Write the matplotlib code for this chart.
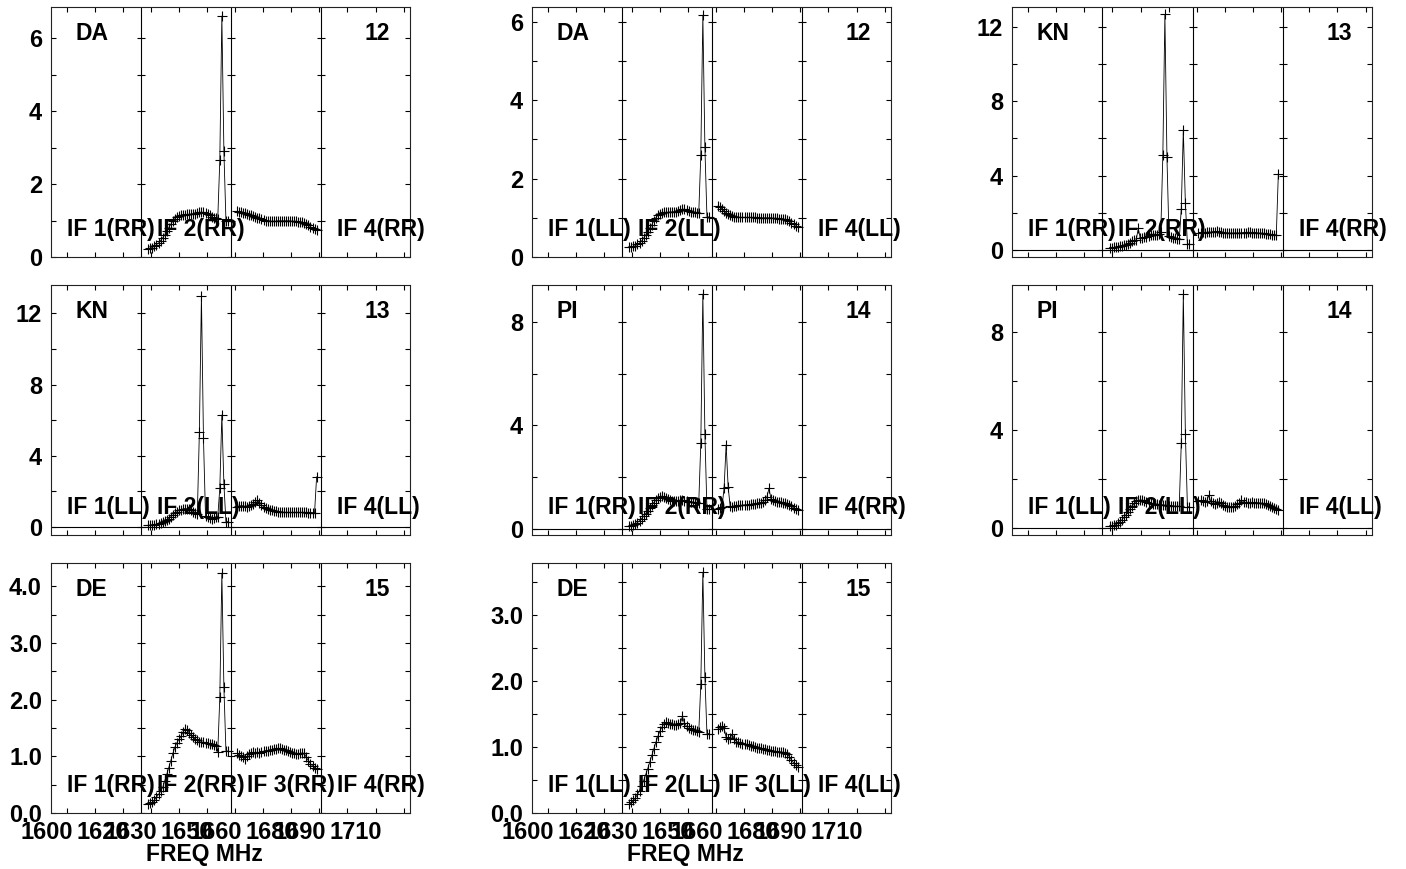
import numpy as np
import matplotlib
matplotlib.use('Agg')
import matplotlib.pyplot as plt
import matplotlib.transforms as mtransforms

plt.rcParams['font.family'] = ['Liberation Sans', 'DejaVu Sans']
plt.rcParams['font.weight'] = 'bold'

# ---------------- data ----------------
STATIONS = ['DA', 'DA', 'KN', 'KN', 'PI', 'PI', 'DE', 'DE']
ANT_NUMS = ['12', '12', '13', '13', '14', '14', '15', '15']
POLS = ['RR', 'LL', 'RR', 'LL', 'RR', 'LL', 'RR', 'LL']
IF_LABELED = [[1, 2, 4], [1, 2, 4], [1, 2, 4], [1, 2, 4],
              [1, 2, 4], [1, 2, 4], [1, 2, 3, 4], [1, 2, 3, 4]]
XTICK_VALUES = [1600, 1620, 1630, 1650, 1660, 1680, 1690, 1710]
XTICK_LABELS = ['1600', '1620', '1630', '1650', '1660', '1680', '1690', '1710']
X_LABEL = 'FREQ MHz'

# channel frequencies (MHz) of the two IFs that carry data
N_CHAN = 40
IF2_FREQ = np.linspace(1629.0, 1657.4, N_CHAN)
IF3_FREQ = np.linspace(1660.6, 1689.0, N_CHAN)

DA_RR_IF2 = [0.23, 0.25, 0.26, 0.30, 0.34, 0.38, 0.45, 0.52, 0.60, 0.70,
             0.80, 0.90, 0.98, 1.05, 1.10, 1.13, 1.15, 1.16, 1.16, 1.17,
             1.17, 1.18, 1.18, 1.19, 1.20, 1.22, 1.23, 1.22, 1.20, 1.17,
             1.14, 1.10, 1.07, 1.06, 1.05, 2.65, 6.60, 2.90, 1.00, 1.00]
DA_RR_IF3 = [1.25, 1.24, 1.22, 1.21, 1.20, 1.18, 1.16, 1.14, 1.12, 1.10,
             1.08, 1.06, 1.04, 1.02, 1.00, 0.99, 0.98, 0.98, 0.98, 0.98,
             0.99, 0.99, 0.99, 0.99, 0.99, 0.99, 0.99, 0.98, 0.98, 0.98,
             0.97, 0.96, 0.95, 0.93, 0.90, 0.87, 0.83, 0.79, 0.76, 0.73]

DA_LL_IF2 = [0.26, 0.26, 0.27, 0.29, 0.32, 0.36, 0.41, 0.48, 0.56, 0.64,
             0.73, 0.82, 0.92, 1.00, 1.07, 1.11, 1.13, 1.14, 1.14, 1.14,
             1.15, 1.15, 1.15, 1.16, 1.18, 1.20, 1.22, 1.22, 1.20, 1.18,
             1.16, 1.15, 1.14, 1.13, 1.13, 2.60, 6.17, 2.80, 1.03, 1.02]
DA_LL_IF3 = [1.30, 1.27, 1.23, 1.18, 1.13, 1.09, 1.06, 1.04, 1.03, 1.02,
             1.02, 1.01, 1.01, 1.01, 1.01, 1.01, 1.01, 1.01, 1.01, 1.00,
             1.00, 1.00, 1.00, 1.00, 1.00, 1.00, 1.00, 0.99, 0.99, 0.99,
             0.98, 0.98, 0.97, 0.96, 0.94, 0.91, 0.87, 0.83, 0.79, 0.76]

KN_RR_IF2 = [0.10, 0.10, 0.12, 0.13, 0.15, 0.18, 0.20, 0.23, 0.27, 0.32,
             0.38, 0.45, 0.50, 0.52, 1.15, 0.60, 0.62, 0.66, 0.70, 0.74,
             0.77, 0.78, 0.80, 0.80, 0.82, 0.95, 5.10, 12.70, 5.00, 0.75,
             0.68, 0.62, 0.60, 0.58, 0.55, 2.20, 6.45, 2.50, 0.30, 0.30]
KN_RR_IF3 = [0.90, 0.92, 0.93, 0.92, 0.93, 0.95, 0.94, 0.95, 0.97, 0.98,
             0.96, 0.94, 0.92, 0.90, 0.90, 0.90, 0.89, 0.89, 0.90, 0.90,
             0.90, 0.91, 0.92, 0.92, 0.93, 0.93, 0.92, 0.92, 0.92, 0.90,
             0.89, 0.89, 0.88, 0.86, 0.84, 0.82, 0.80, 0.80, 0.78, 4.10]

KN_LL_IF2 = [0.08, 0.09, 0.10, 0.12, 0.14, 0.17, 0.20, 0.25, 0.30, 0.37,
             0.45, 0.55, 0.65, 0.75, 0.84, 0.92, 0.96, 1.00, 1.02, 1.00,
             0.97, 0.92, 0.85, 0.78, 0.74, 5.35, 13.00, 4.97, 0.60, 0.52,
             0.47, 0.45, 0.50, 0.55, 0.56, 2.16, 6.28, 2.40, 0.28, 0.28]
KN_LL_IF3 = [1.13, 1.15, 1.18, 1.17, 1.14, 1.13, 1.16, 1.22, 1.30, 1.40,
             1.48, 1.35, 1.22, 1.13, 1.06, 1.00, 0.95, 0.91, 0.88, 0.86,
             0.84, 0.83, 0.82, 0.81, 0.80, 0.80, 0.80, 0.80, 0.80, 0.80,
             0.80, 0.80, 0.80, 0.80, 0.80, 0.79, 0.79, 0.79, 0.79, 2.80]

PI_RR_IF2 = [0.13, 0.14, 0.17, 0.21, 0.26, 0.33, 0.41, 0.50, 0.60, 0.71,
             0.82, 0.93, 1.03, 1.12, 1.20, 1.26, 1.28, 1.25, 1.21, 1.17,
             1.13, 1.10, 1.08, 1.08, 1.10, 1.13, 1.12, 1.10, 1.08, 1.06,
             1.05, 1.04, 1.04, 1.03, 1.03, 3.31, 9.06, 3.67, 0.77, 0.77]
PI_RR_IF3 = [0.78, 0.82, 0.87, 1.58, 3.25, 1.62, 0.88, 0.85, 0.88, 0.90,
             0.92, 0.92, 0.93, 0.94, 0.94, 0.95, 0.96, 0.97, 0.99, 1.00,
             1.02, 1.03, 1.05, 1.12, 1.26, 1.58, 1.15, 1.12, 1.10, 1.07,
             1.06, 1.05, 1.03, 1.00, 0.97, 0.93, 0.88, 0.83, 0.78, 0.74]

PI_LL_IF2 = [0.09, 0.10, 0.12, 0.15, 0.20, 0.27, 0.35, 0.45, 0.56, 0.68,
             0.80, 0.92, 1.02, 1.10, 1.14, 1.16, 1.15, 1.12, 1.09, 1.05,
             1.02, 1.00, 0.99, 0.98, 0.97, 0.96, 0.95, 0.95, 0.94, 0.93,
             0.92, 0.91, 0.91, 0.90, 0.90, 3.47, 9.56, 3.85, 0.88, 0.88]
PI_LL_IF3 = [1.10, 1.14, 1.12, 1.08, 1.10, 1.35, 1.10, 1.02, 1.00, 1.03,
             1.09, 1.02, 0.95, 0.90, 0.88, 0.88, 0.88, 0.89, 0.92, 0.98,
             1.05, 1.16, 1.08, 1.06, 1.05, 1.05, 1.06, 1.05, 1.04, 1.04,
             1.04, 1.03, 1.02, 1.00, 0.97, 0.93, 0.88, 0.84, 0.80, 0.77]

DE_RR_IF2 = [0.15, 0.17, 0.19, 0.23, 0.28, 0.33, 0.38, 0.45, 0.56, 0.68,
             0.80, 0.92, 1.05, 1.16, 1.24, 1.30, 1.35, 1.43, 1.48, 1.46,
             1.42, 1.38, 1.34, 1.30, 1.28, 1.26, 1.25, 1.25, 1.24, 1.23,
             1.22, 1.21, 1.20, 1.19, 1.08, 2.04, 4.23, 2.22, 1.10, 1.09]
DE_RR_IF3 = [1.05, 1.03, 1.01, 0.98, 0.96, 1.00, 1.04, 1.06, 1.07, 1.06,
             1.07, 1.06, 1.08, 1.09, 1.10, 1.09, 1.11, 1.12, 1.13, 1.13,
             1.14, 1.14, 1.13, 1.12, 1.11, 1.09, 1.08, 1.06, 1.05, 1.04,
             1.04, 1.05, 1.06, 1.05, 0.98, 0.92, 0.87, 0.83, 0.80, 0.78]

DE_LL_IF2 = [0.13, 0.16, 0.19, 0.23, 0.28, 0.34, 0.41, 0.49, 0.58, 0.67,
             0.77, 0.87, 0.97, 1.07, 1.16, 1.24, 1.30, 1.35, 1.37, 1.36,
             1.35, 1.34, 1.33, 1.33, 1.34, 1.36, 1.46, 1.36, 1.31, 1.28,
             1.27, 1.26, 1.25, 1.24, 1.22, 1.95, 3.64, 2.06, 1.20, 1.20]
DE_LL_IF3 = [1.27, 1.30, 1.31, 1.28, 1.15, 1.12, 1.14, 1.19, 1.12, 1.08,
             1.07, 1.06, 1.05, 1.05, 1.04, 1.03, 1.02, 1.01, 1.00, 0.99,
             0.99, 0.98, 0.97, 0.97, 0.96, 0.95, 0.94, 0.93, 0.93, 0.92,
             0.92, 0.92, 0.92, 0.91, 0.89, 0.85, 0.80, 0.76, 0.72, 0.69]

IF2_SERIES = [DA_RR_IF2, DA_LL_IF2, KN_RR_IF2, KN_LL_IF2,
              PI_RR_IF2, PI_LL_IF2, DE_RR_IF2, DE_LL_IF2]
IF3_SERIES = [DA_RR_IF3, DA_LL_IF3, KN_RR_IF3, KN_LL_IF3,
              PI_RR_IF3, PI_LL_IF3, DE_RR_IF3, DE_LL_IF3]

# axis ranges and tick steps per panel
Y_MIN = [0.0, 0.0, -0.40, -0.47, -0.22, -0.27, 0.0, 0.0]
Y_MAX = [6.85, 6.38, 13.1, 13.6, 9.41, 9.93, 4.41, 3.78]
Y_MAJOR = [2, 2, 4, 4, 4, 4, 1.0, 1.0]
Y_MINOR = [1, 1, 2, 2, 2, 2, 0.5, 0.5]
Y_FMT = ['%d', '%d', '%d', '%d', '%d', '%d', '%.1f', '%.1f']

X_RANGE = (1594.3, 1722.3)
IF_EDGES = [1594.3, 1626.4, 1658.5, 1690.6]

# ---------------- layout ----------------
W, H = 1406, 869
fig = plt.figure(figsize=(W / 100, H / 100), dpi=100)

col_left = [51, 532, 1012]
col_width = [359, 359, 360]
row_top = [7, 285, 563]
row_height = 250

FS_TICK = 17
FS_TEXT = 16.5
tick_len = 3.6

for i in range(8):
    r, c = divmod(i, 3)
    ax = fig.add_axes([col_left[c] / W, 1 - (row_top[r] + row_height) / H,
                       col_width[c] / W, row_height / H])
    ax.set_xlim(*X_RANGE)
    ax.set_ylim(Y_MIN[i], Y_MAX[i])
    for sp in ax.spines.values():
        sp.set_linewidth(0.8)
        sp.set_color('#222222')

    # y ticks
    ymaj = np.arange(0, Y_MAX[i] + 1e-9, Y_MAJOR[i])
    ymin_t = np.arange(0, Y_MAX[i] + 1e-9, Y_MINOR[i])
    ax.set_yticks(ymaj)
    ax.set_yticks(ymin_t, minor=True)
    ax.set_yticklabels([Y_FMT[i] % v for v in ymaj], fontsize=FS_TICK,
                       fontweight='bold')
    ax.tick_params(axis='y', which='both', direction='in', left=True,
                   right=True, length=tick_len, width=0.8, pad=6.5)

    # x ticks
    ax.set_xticks(XTICK_VALUES)
    ax.set_xticks(np.arange(1600, 1721, 10), minor=True)
    ax.tick_params(axis='x', which='both', direction='in', top=True,
                   bottom=True, length=tick_len, width=0.8, pad=6)
    if r == 2:
        ax.set_xticklabels(XTICK_LABELS, fontsize=FS_TICK, fontweight='bold')
        off = mtransforms.ScaledTranslation(-0.20, 0, fig.dpi_scale_trans)
        for lab in ax.xaxis.get_majorticklabels():
            lab.set_transform(lab.get_transform() + off)
        ax.set_xlabel(X_LABEL, fontsize=FS_TEXT, fontweight='bold')
        ax.xaxis.set_label_coords(0.428, -0.118)
    else:
        ax.set_xticklabels([])

    # IF dividers with tick marks
    for b in IF_EDGES[1:]:
        ax.axvline(b, color='black', lw=0.8)
        ax.plot(np.full(len(ymin_t), b), ymin_t, ls='none', marker='_',
                ms=6, mew=0.8, color='black')
    if Y_MIN[i] < 0:
        ax.axhline(0, color='black', lw=0.8)

    # data
    for fx, fy in ((IF2_FREQ, IF2_SERIES[i]), (IF3_FREQ, IF3_SERIES[i])):
        ax.plot(fx, fy, color='black', lw=0.6, marker='+', ms=7.5, mew=0.8)

    # annotations
    ax.text(0.067, 0.896, STATIONS[i], transform=ax.transAxes, ha='left',
            va='center', fontsize=FS_TEXT, fontweight='bold')
    ax.text(0.944, 0.896, ANT_NUMS[i], transform=ax.transAxes, ha='right',
            va='center', fontsize=FS_TEXT, fontweight='bold')
    blend = mtransforms.blended_transform_factory(ax.transData, ax.transAxes)
    for k in IF_LABELED[i]:
        ax.text(IF_EDGES[k - 1] + 5.7, 0.11, 'IF %d(%s)' % (k, POLS[i]),
                transform=blend, ha='left', va='center', fontsize=FS_TEXT,
                fontweight='bold')

fig.savefig('out.png', dpi=100)
